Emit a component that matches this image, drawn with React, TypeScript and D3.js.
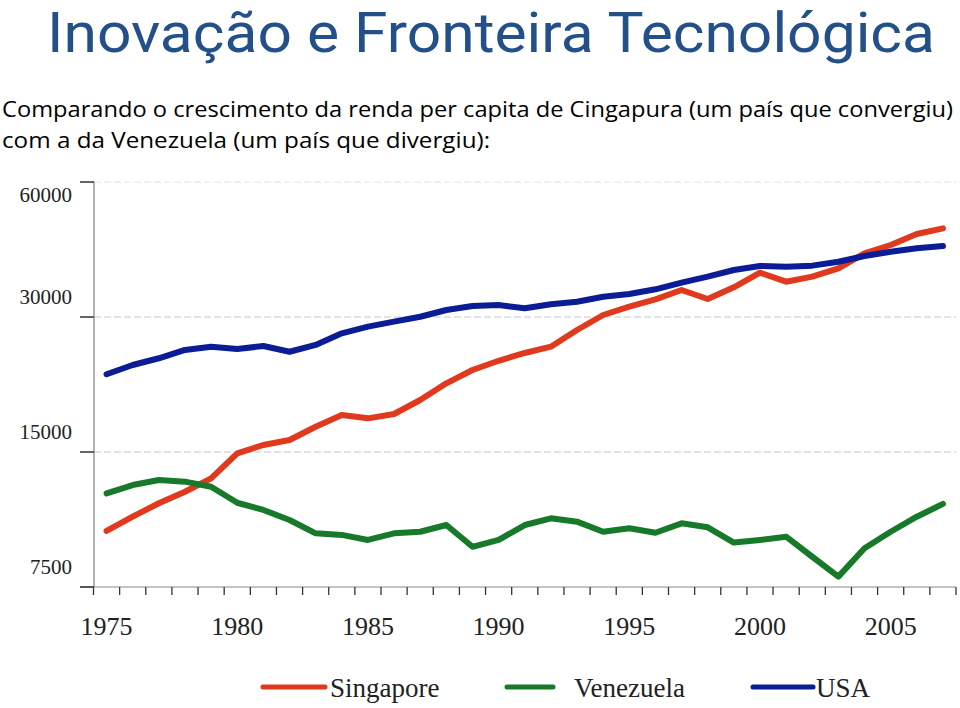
import React from "react";
import * as d3 from "d3";

const years = d3.range(1975, 2008);
const singapore = [10000, 10760, 11530, 12230, 13100, 14900, 15550, 15950, 17080, 18140, 17830, 18230, 19590, 21340, 22850, 23960, 24940, 25760, 28060, 30310, 31630, 32850, 34460, 32900, 34940, 37660, 35960, 36910, 38520, 41610, 43420, 45940, 47300];
const venezuela = [12130, 12660, 12990, 12880, 12550, 11560, 11140, 10580, 9880, 9800, 9550, 9880, 9960, 10310, 9220, 9550, 10310, 10670, 10490, 9960, 10140, 9910, 10400, 10190, 9420, 9550, 9710, 8760, 7910, 9150, 9960, 10760, 11490];
const usa = [22360, 23450, 24270, 25330, 25760, 25450, 25850, 25100, 25990, 27590, 28550, 29290, 30040, 31100, 31750, 31900, 31370, 32020, 32450, 33290, 33760, 34580, 35780, 36910, 38190, 38990, 38850, 39050, 39850, 41040, 41950, 42690, 43200];
const yTicks = [7500, 15000, 30000, 60000];
const xLabels = [1975, 1980, 1985, 1990, 1995, 2000, 2005];
const seriesNames = ["Singapore", "Venezuela", "USA"];
const seriesColors = ["#e0391d", "#17792a", "#0b1c94"];
const seriesValues = [singapore, venezuela, usa];

const title = "Inovação e Fronteira Tecnológica";
const subtitle1 = "Comparando o crescimento da renda per capita de Cingapura (um país que convergiu)";
const subtitle2 = "com a da Venezuela (um país que divergiu):";

export default function App() {
  const W = 960, H = 708;
  const x = d3.scaleLinear().domain([1974.5, 2007.5]).range([93.5, 956]);
  const y = d3.scaleLog().domain([7500, 60000]).range([587, 182]);
  const line = d3.line<number>().x((_, i) => x(years[i])).y((d) => y(d)).curve(d3.curveLinear);
  const tickYears = d3.range(1974.5, 2008, 1);
  const legendX = [263, 507, 753];
  const legendLen = [62, 46, 60];
  const legendGap = [5, 21, 3];
  const serif = "'Liberation Serif', 'DejaVu Serif', serif";
  const sans = "'Open Sans', 'Noto Sans', sans-serif";
  return (
    <svg width={W} height={H} style={{ position: "absolute", left: 0, top: 0, background: "#fff" }}>
      <text x={47} y={52} fontFamily="Roboto, 'Liberation Sans', sans-serif" fontWeight={400} fontSize={55} fill="#24508a" textLength={888} lengthAdjust="spacingAndGlyphs">{title}</text>
      <text x={2} y={117} fontFamily={sans} fontSize={22} fill="#000" textLength={951} lengthAdjust="spacingAndGlyphs">{subtitle1}</text>
      <text x={2} y={148} fontFamily={sans} fontSize={22} fill="#000" textLength={488} lengthAdjust="spacingAndGlyphs">{subtitle2}</text>

      {/* grid lines */}
      {yTicks.filter((t) => t !== 7500).map((t) => (
        <line key={"g" + t} x1={94} x2={956} y1={y(t)} y2={y(t)} stroke={t === 60000 ? "#e4e4e4" : "#c8c8c8"} strokeWidth={1.2} strokeDasharray="7 3" />
      ))}
      {/* axes */}
      <line x1={94} x2={94} y1={182} y2={587} stroke="#9a9a9a" strokeWidth={1.5} />
      <line x1={80} x2={956} y1={587} y2={587} stroke="#8a8a8a" strokeWidth={1.2} />
      {yTicks.map((t) => (
        <g key={"yt" + t}>
          <line x1={80} x2={94} y1={y(t)} y2={y(t)} stroke="#333" strokeWidth={1.5} />
          <text x={72} y={Math.max(y(t) - 13, y(60000) + 20)} textAnchor="end" fontFamily={serif} fontSize={21} fill="#222">{t}</text>
        </g>
      ))}
      {tickYears.map((t) => (
        <line key={"xt" + t} x1={x(t)} x2={x(t)} y1={587} y2={595} stroke="#333" strokeWidth={1.3} />
      ))}
      {xLabels.map((yr) => (
        <text key={"xl" + yr} x={x(yr)} y={635} textAnchor="middle" fontFamily={serif} fontSize={26} fill="#222">{yr}</text>
      ))}

      {/* series */}
      {seriesValues.map((vals, i) => (
        <path key={seriesNames[i]} d={line(vals) || ""} fill="none" stroke={seriesColors[i]} strokeWidth={6} strokeLinejoin="round" strokeLinecap="round" />
      ))}

      {/* legend */}
      {seriesNames.map((n, i) => (
        <g key={"lg" + n}>
          <line x1={legendX[i]} x2={legendX[i] + legendLen[i]} y1={687} y2={687} stroke={seriesColors[i]} strokeWidth={5} strokeLinecap="round" />
          <text x={legendX[i] + legendLen[i] + legendGap[i]} y={697} fontFamily={serif} fontSize={27} fill="#222">{n}</text>
        </g>
      ))}
    </svg>
  );
}
